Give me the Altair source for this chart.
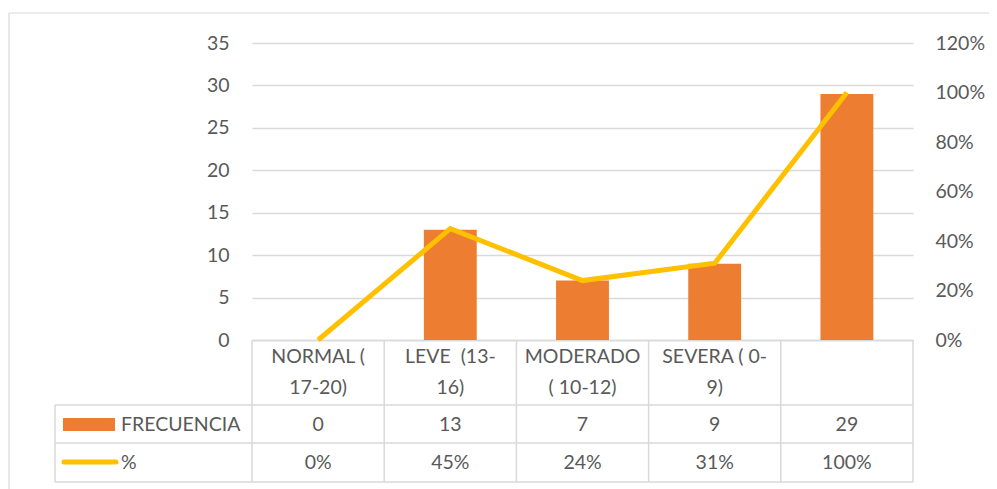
import altair as alt
import pandas as pd

# ---- data ----
categories = ["NORMAL (\n17-20)", "LEVE \u00a0(13-\n16)", "MODERADO\n( 10-12)", "SEVERA ( 0-\n9)", ""]
frecuencia = [0, 13, 7, 9, 29]
porcentaje = [0.00, 0.45, 0.24, 0.31, 1.00]
left_ticks = [0, 5, 10, 15, 20, 25, 30, 35]
right_ticks = [0, 0.2, 0.4, 0.6, 0.8, 1.0, 1.2]
series_names = ["FRECUENCIA", "%"]

ORANGE = "#ED7D31"
YELLOW = "#FFC000"
TEXT = "#595959"
GRID = "#D9D9D9"
FONT = "Lato"
FS = 19.5
W, H = 661, 297

df = pd.DataFrame({
    "pos": list(range(len(categories))),
    "cat": categories,
    "freq": frecuencia,
    "pct": porcentaje,
})
one = pd.DataFrame({"k": [0]})

xenc = alt.X(
    "pos:O",
    scale=alt.Scale(paddingInner=0.6, paddingOuter=0.3),
    axis=alt.Axis(labels=False, title=None, ticks=False,
                  domainColor=GRID, domainWidth=1.5),
)

bars = alt.Chart(df).mark_bar(color=ORANGE).encode(
    x=xenc,
    y=alt.Y("freq:Q", scale=alt.Scale(domain=[0, 35]),
            axis=alt.Axis(values=left_ticks, grid=True, gridColor=GRID, gridWidth=1.3,
                          domain=False, ticks=False, labelPadding=23, title=None)),
)

line = alt.Chart(df).mark_line(color=YELLOW, strokeWidth=5, strokeJoin="miter").encode(
    x=xenc,
    y=alt.Y("pct:Q", scale=alt.Scale(domain=[0, 1.2]),
            axis=alt.Axis(values=right_ticks, format=".0%", orient="right", grid=False,
                          domain=False, ticks=False, labelPadding=22, title=None)),
)

txt = dict(font=FONT, fontSize=FS, color=TEXT)

header = alt.Chart(df).mark_text(lineBreak="\n", lineHeight=31, baseline="middle", **txt).encode(
    x=xenc, y=alt.value(314), text="cat:N")
row1 = alt.Chart(df).mark_text(baseline="middle", **txt).encode(
    x=xenc, y=alt.value(382), text="freq:Q")
row2 = alt.Chart(df).mark_text(baseline="middle", **txt).encode(
    x=xenc, y=alt.value(420), text=alt.Text("pct:Q", format=".0%"))

def hrule(y, x1, x2, color=GRID, w=1.5):
    return alt.Chart(one).mark_rule(color=color, strokeWidth=w).encode(
        x=alt.value(x1), x2=alt.value(x2), y=alt.value(y))

def vrule(x, y1, y2, color=GRID, w=1.5):
    return alt.Chart(one).mark_rule(color=color, strokeWidth=w).encode(
        x=alt.value(x), y=alt.value(y1), y2=alt.value(y2))

step = W / len(categories)
table_lines = [
    hrule(362, -197, W),
    hrule(400, -197, W),
    hrule(439, -197, W),
    vrule(-197, 362, 439),
] + [vrule(round(k * step, 1), H, 439) for k in range(len(categories) + 1)]
frame = [
    hrule(-30, -243, 740, color="#D9D9D9", w=1.2),
    vrule(-243, -30, 460, color="#D9D9D9", w=1.2),
]

leg_rect = alt.Chart(one).mark_rect(color=ORANGE).encode(
    x=alt.value(-189), x2=alt.value(-137), y=alt.value(375), y2=alt.value(388))
leg_line = alt.Chart(one).mark_rule(color=YELLOW, strokeWidth=5, strokeCap="round").encode(
    x=alt.value(-188), x2=alt.value(-136), y=alt.value(419))
leg_t1 = alt.Chart(one).mark_text(align="left", baseline="middle", **txt).encode(
    x=alt.value(-131), y=alt.value(382), text=alt.value(series_names[0]))
leg_t2 = alt.Chart(one).mark_text(align="left", baseline="middle", **txt).encode(
    x=alt.value(-131), y=alt.value(420), text=alt.value(series_names[1]))

chart = alt.layer(
    bars, line, header, row1, row2, *table_lines, *frame, leg_rect, leg_line, leg_t1, leg_t2
).resolve_scale(y="independent").properties(
    width=W, height=H,
    padding={"left": 244, "top": 35, "right": 76, "bottom": 149},
    autosize=alt.AutoSizeParams(type="none"),
).configure_view(stroke=None).configure_axis(
    labelFont=FONT, labelFontSize=FS, labelColor=TEXT
)

chart.save("out.html", embed_options={"renderer": "svg", "actions": False})
